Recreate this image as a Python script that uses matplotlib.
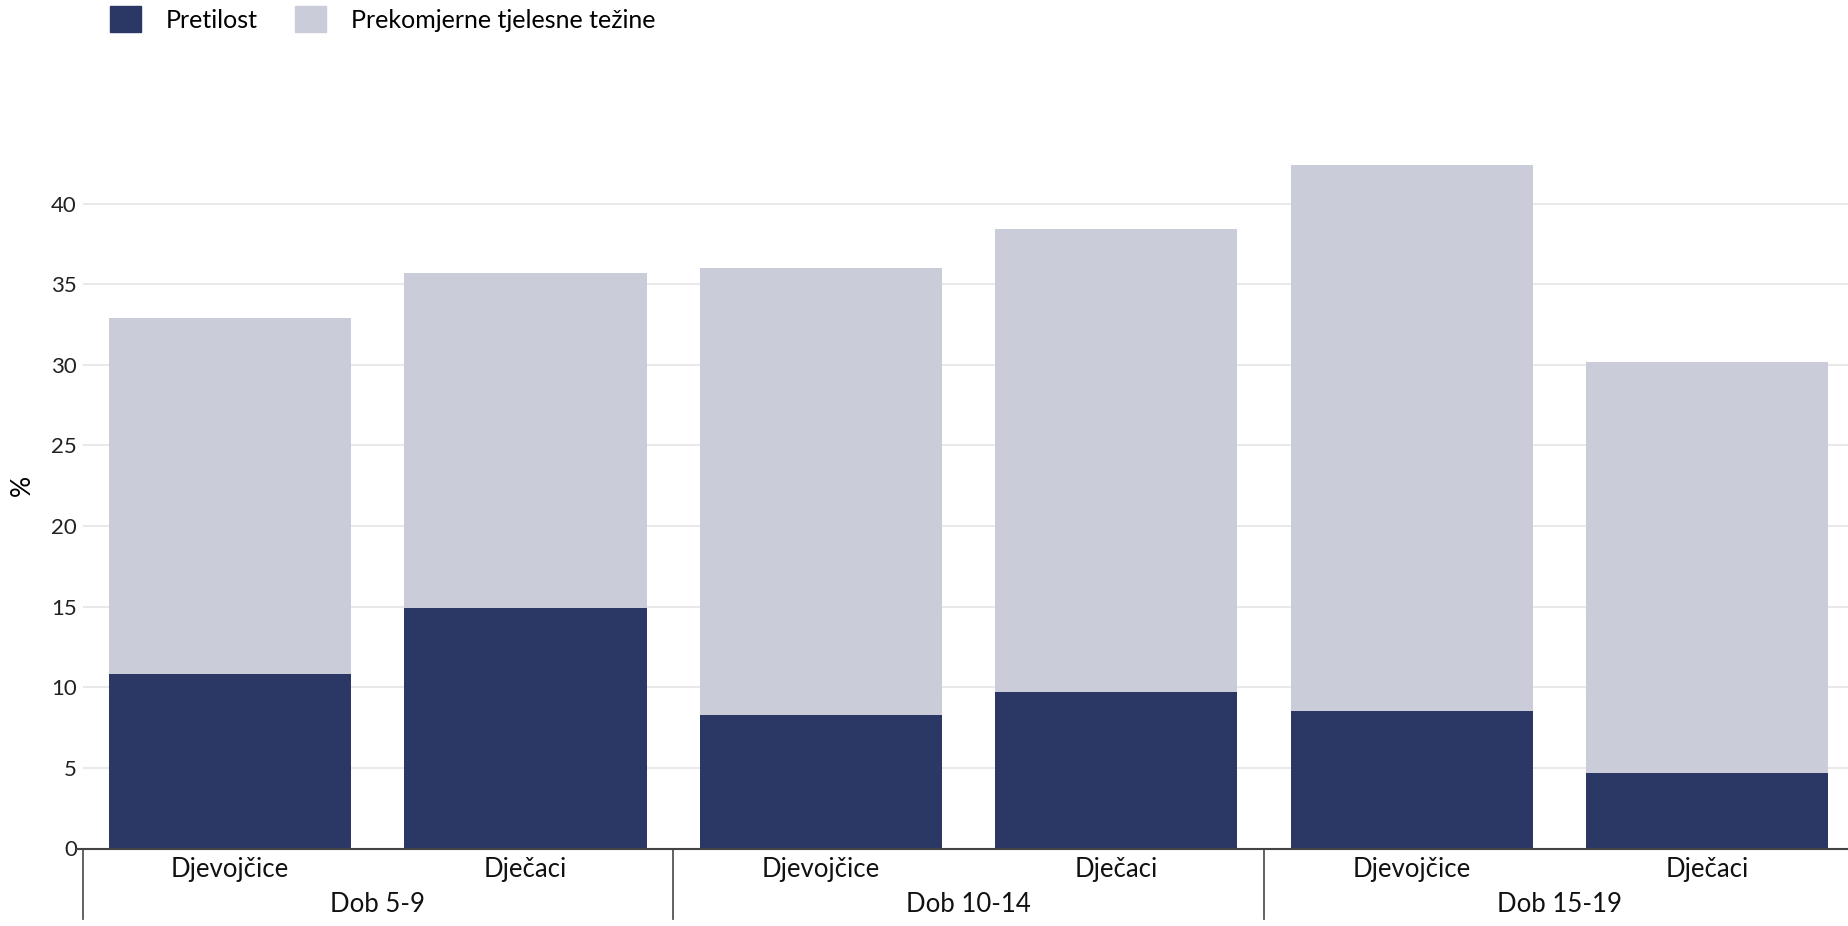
import numpy as np
import matplotlib.pyplot as plt
from matplotlib.patches import Patch

plt.rcParams['font.family'] = ['Lato', 'DejaVu Sans']

# data
categories = ['Djevojčice', 'Dječaci', 'Djevojčice', 'Dječaci', 'Djevojčice', 'Dječaci']
groups = ['Dob 5-9', 'Dob 10-14', 'Dob 15-19']
pretilost = [10.8, 14.9, 8.3, 9.7, 8.5, 4.7]
prekomjerne = [22.1, 20.8, 27.7, 28.7, 33.9, 25.5]
series_names = ['Pretilost', 'Prekomjerne tjelesne težine']

dark = '#2b3764'
light = '#cacdd9'

W, H = 1848, 926
fig = plt.figure(figsize=(W / 100, H / 100), dpi=100)
left, bottom, top = 82.5 / W, (H - 848.5) / H, (H - 123) / H
ax = fig.add_axes([left, bottom, 1 - left, top - bottom])
ax_h = 848.5 - 123

x = np.arange(len(categories))
ax.bar(x, pretilost, width=0.82, color=dark, zorder=2)
ax.bar(x, prekomjerne, width=0.82, bottom=pretilost, color=light, zorder=2)

ax.set_xlim(-0.5, 5.477)
ax.set_ylim(0, 45)
ax.set_yticks(np.arange(0, 41, 5))
ax.grid(axis='y', color='#e9e9e9', lw=1.5, zorder=0)
for s in ax.spines.values():
    s.set_visible(False)
ax.tick_params(axis='y', length=0, pad=4, labelsize=16, labelcolor='#222222')
ax.set_xticks(x, categories)
ax.tick_params(axis='x', length=0, pad=6, labelsize=18.5, labelcolor='#111111')
ax.set_ylabel('%', fontsize=19, labelpad=12)

# zero line, a bit past the left edge
ax.plot([-0.52, 5.477], [0, 0], color='#444444', lw=1.5, clip_on=False, zorder=3)

# group labels and separators
trans = ax.get_xaxis_transform()
for i, g in enumerate(groups):
    ax.text(2 * i + 0.5, -56 / ax_h, g, transform=trans, ha='center', va='center',
            fontsize=18.5, color='#111111')
for xs in [-0.5, 1.5, 3.5]:
    ax.plot([xs, xs], [0, -70 / ax_h], transform=trans, color='#555555', lw=1.3,
            clip_on=False)

handles = [Patch(color=dark), Patch(color=light)]
fig.legend(handles, series_names, loc='upper left', bbox_to_anchor=(110 / W, 1 - 6 / H),
           ncol=2, frameon=False, fontsize=18, handlelength=1.25, handleheight=1.25,
           handletextpad=1.0, columnspacing=1.45, borderpad=0, borderaxespad=0)

fig.savefig('out.png', dpi=100)
